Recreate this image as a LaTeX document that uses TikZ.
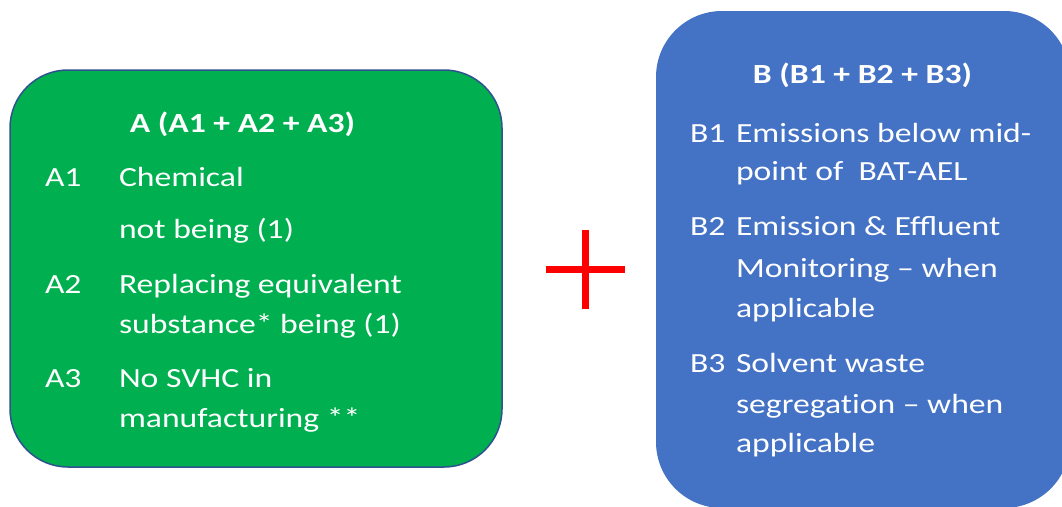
\documentclass[tikz,border=0pt]{standalone}
\usepackage{fontspec}
\setmainfont{Carlito}[FakeStretch=1.215]
\definecolor{agreen}{HTML}{00B050}
\definecolor{bblue}{HTML}{4472C4}
\definecolor{edgeblue}{HTML}{2F528F}
\definecolor{plusred}{HTML}{FF0000}
\begin{document}
\begin{tikzpicture}[x=1pt,y=-1pt,
  txt/.style={anchor=base west,inner sep=0pt,outer sep=0pt,text=white,font=\fontsize{27.7}{40}\selectfont},
  ttl/.style={anchor=base,inner sep=0pt,outer sep=0pt,text=white,font=\fontsize{27.7}{40}\selectfont\bfseries},
  boxA/.style={fill=agreen,draw=edgeblue,line width=1.5pt,rounded corners=58pt},
  boxB/.style={fill=bblue,draw=none,rounded corners=66pt},
  plusbar/.style={draw=plusred,line width=7pt}]
\useasboundingbox (0,0) rectangle (1062,506);
\clip (0,0) rectangle (1062,506);
% boxes
\path[boxA] (10,70) rectangle (502,467);
\path[boxB] (656,11) rectangle (1070,508);
% plus sign
\coordinate (plus) at (585.5,269);
\draw[plusbar] ([xshift=-39.5pt]plus) -- ([xshift=39.5pt]plus);
\draw[plusbar] ([yshift=-39.5pt]plus) -- ([yshift=39.5pt]plus);
% A texts
\node[ttl] (atitle) at (242.5,132) {A (A1 + A2 + A3)};
\node[txt] (a1) at (45,186) {A1};
\node[txt] (a1t1) at (119,186) {Chemical};
\node[txt] (a1t2) at (119,238) {not being (1)};
\node[txt] (a2) at (45,293) {A2};
\node[txt] (a2t1) at (119,293) {Replacing equivalent};
\node[txt] (a2t2) at (119,333) {substance* being (1)};
\node[txt] (a3) at (45,387) {A3};
\node[txt] (a3t1) at (119,387) {No SVHC in};
\node[txt] (a3t2) at (119,427) {manufacturing **};
% B texts
\node[ttl] (btitle) at (862.5,83) {B (B1 + B2 + B3)};
\node[txt] (b1) at (690,142) {B1};
\node[txt] (b1t1) at (736,142) {Emissions below mid-};
\node[txt] (b1t2) at (736,180) {point of\ \ BAT-AEL};
\node[txt] (b2) at (690,235) {B2};
\node[txt] (b2t1) at (736,235) {Emission \& Effluent};
\node[txt] (b2t2) at (736,277) {Monitoring – when};
\node[txt] (b2t3) at (736,317) {applicable};
\node[txt] (b3) at (690,372) {B3};
\node[txt] (b3t1) at (736,372) {Solvent waste};
\node[txt] (b3t2) at (736,413) {segregat\kern0pt ion – when};
\node[txt] (b3t3) at (736,452) {applicable};
\end{tikzpicture}
\end{document}
